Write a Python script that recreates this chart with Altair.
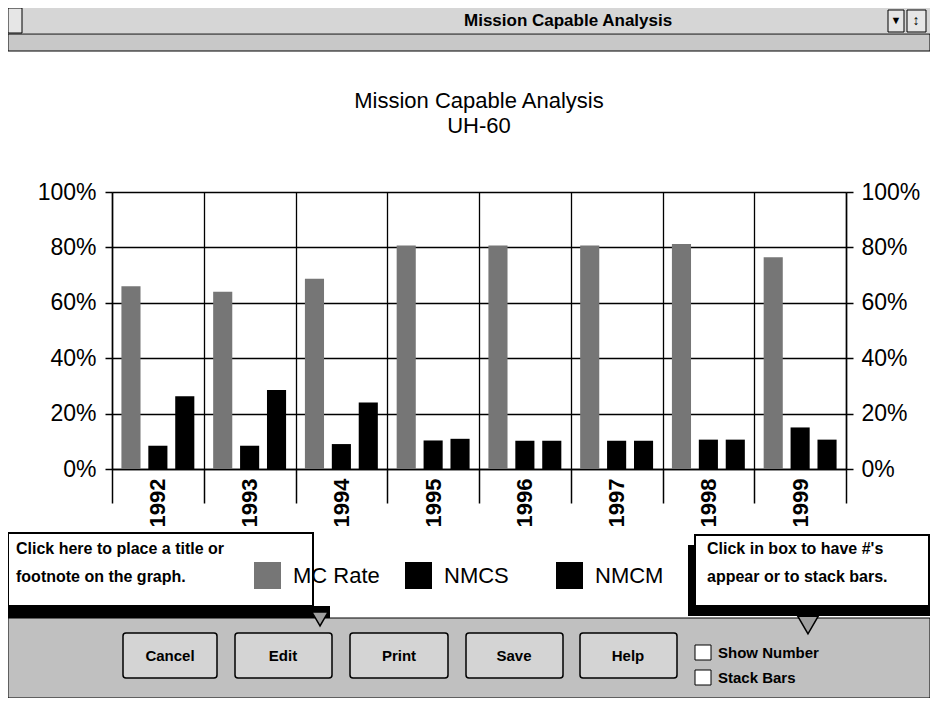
import altair as alt
import pandas as pd

# ---- data ----
years = ["1992", "1993", "1994", "1995", "1996", "1997", "1998", "1999"]
series = ["MC Rate", "NMCS", "NMCM"]
mc_rate = [66.0, 64.0, 68.7, 80.7, 80.7, 80.7, 81.2, 76.4]
nmcs = [8.4, 8.4, 9.0, 10.3, 10.2, 10.2, 10.6, 15.0]
nmcm = [26.3, 28.5, 24.0, 10.9, 10.2, 10.2, 10.6, 10.6]
y_ticks = [0, 20, 40, 60, 80, 100]
series_colors = ["#767676", "#000000", "#000000"]

rows = []
for i, yr in enumerate(years):
    for s, vals in zip(series, [mc_rate, nmcs, nmcm]):
        rows.append({"year": yr, "series": s, "value": vals[i]})
df = pd.DataFrame(rows)

FONT = "Liberation Sans, Arial, sans-serif"
UIFONT = "Liberation Sans Narrow, Liberation Sans, Arial, sans-serif"
OX, OY = 112, 192  # page position of plot origin (8px page margin + padding)

ysc = alt.Scale(domain=[0, 100], nice=False)

bars = alt.Chart(df).mark_bar().encode(
    x=alt.X(
        "year:N",
        sort=years,
        scale=alt.Scale(paddingInner=0, paddingOuter=0),
        axis=alt.Axis(
            title=None, labelAngle=270, labelFontSize=22, labelFontWeight="bold",
            labelFont=FONT, labelColor="black", tickBand="extent", tickSize=34,
            tickColor="black", tickWidth=1.5, labelPadding=-25, grid=True,
            gridColor="black", gridWidth=1.3, gridOpacity=1, domainColor="black",
            domainWidth=1.5,
        ),
    ),
    xOffset=alt.XOffset(
        "series:N", sort=series,
        scale=alt.Scale(domain=series, paddingInner=0.29, paddingOuter=0.35),
    ),
    y=alt.Y(
        "value:Q", scale=ysc,
        axis=alt.Axis(
            title=None, values=y_ticks, labelExpr="datum.value + '%'", orient="left",
            labelFontSize=23, labelFont=FONT, labelColor="black", tickSize=7,
            tickColor="black", tickWidth=1.5, labelPadding=9, grid=True,
            gridColor="black", gridWidth=1.3, gridOpacity=1, domainColor="black",
            domainWidth=1.5,
        ),
    ),
    color=alt.Color(
        "series:N",
        scale=alt.Scale(domain=series, range=series_colors),
        legend=alt.Legend(
            title=None, orient="none", legendX=142, legendY=370, direction="horizontal",
            columns=3, gridAlign="all", columnPadding=25, symbolType="square",
            symbolSize=729, symbolStrokeWidth=0, symbolOpacity=1, labelFontSize=22,
            labelFont=FONT, labelColor="black", labelOffset=12, padding=0,
        ),
    ),
)

right_axis = alt.Chart(df).mark_point(opacity=0).encode(
    x=alt.X("year:N", sort=years),
    y=alt.Y(
        "value:Q", scale=ysc,
        axis=alt.Axis(
            title=None, values=y_ticks, labelExpr="datum.value + '%'", orient="right",
            labelFontSize=23, labelFont=FONT, labelColor="black", tickSize=7,
            tickColor="black", tickWidth=1.5, labelPadding=8, grid=False,
            domainColor="black", domainWidth=1.5,
        ),
    ),
)

one = alt.Data(values=[{"k": 1}])


def box(x1, y1, x2, y2, fill, stroke=None, sw=0, radius=0):
    kw = dict(fill=fill, strokeWidth=sw, cornerRadius=radius)
    if stroke:
        kw["stroke"] = stroke
    return alt.Chart(one).mark_rect(**kw).encode(
        x=alt.value(x1 - OX), x2=alt.value(x2 - OX),
        y=alt.value(y1 - OY), y2=alt.value(y2 - OY),
    )


def label(txt, x, y, size=16, weight="bold", align="left", font=UIFONT):
    return alt.Chart(one).mark_text(
        text=txt, align=align, baseline="middle", font=font, fontSize=size,
        fontWeight=weight, color="black",
    ).encode(x=alt.value(x - OX), y=alt.value(y - OY))


def arrow(x, y, size=300):
    return alt.Chart(one).mark_point(
        shape="triangle-down", filled=True, fill="#a0a0a0", stroke="black",
        strokeWidth=1.5, size=size, opacity=1,
    ).encode(x=alt.value(x - OX), y=alt.value(y - OY))


chrome = [
    # window title bar
    box(8, 8, 930, 33, "#d6d6d6"),
    box(8, 8, 22, 33, "#e6e6e6", "black", 1),
    label("Mission Capable Analysis", 464, 21, size=17),
    box(888, 10, 904, 32, "#e6e6e6", "black", 1),
    box(907, 10, 926, 32, "#e6e6e6", "black", 1),
    label("\u25bc", 896, 21, size=11, align="center"),
    label("\u2195", 916, 21, size=14, align="center"),
    box(8, 34, 930, 51, "#c8c8c8", "black", 1),
    # left callout
    box(8, 606, 330, 618, "black"),
    box(8, 533, 313, 606, "white", "black", 2),
    label("Click here to place a title or", 16, 549),
    label("footnote on the graph.", 16, 577),
    # right callout
    box(688, 545, 695, 616, "black"),
    box(688, 606, 930, 616, "black"),
    box(695, 535, 929, 606, "white", "black", 2),
    label("Click in box to have #'s", 707, 549),
    label("appear or to stack bars.", 707, 577),
    # bottom button panel
    box(8, 618, 930, 698, "#c0c0c0", "black", 1),
    arrow(320, 619, 260),
    arrow(808, 625, 420),
    box(123, 633, 217, 678, "#d4d4d4", "black", 1.5, 3),
    box(235, 633, 332, 678, "#d4d4d4", "black", 1.5, 3),
    box(350, 633, 448, 678, "#d4d4d4", "black", 1.5, 3),
    box(466, 633, 563, 678, "#d4d4d4", "black", 1.5, 3),
    box(580, 633, 677, 678, "#d4d4d4", "black", 1.5, 3),
    label("Cancel", 170, 656, size=15, align="center"),
    label("Edit", 283, 656, size=15, align="center"),
    label("Print", 399, 656, size=15, align="center"),
    label("Save", 514, 656, size=15, align="center"),
    label("Help", 628, 656, size=15, align="center"),
    box(695, 645, 711, 660, "white", "black", 1),
    box(695, 670, 711, 685, "white", "black", 1),
    label("Show Number", 718, 653, size=15),
    label("Stack Bars", 718, 678, size=15),
]

chart = (
    alt.layer(bars, right_axis, *chrome)
    .resolve_scale(y="shared")
    .resolve_axis(y="independent")
    .properties(
        width=734,
        height=277,
        autosize=alt.AutoSizeParams(type="none"),
        padding={"left": 104, "top": 184, "right": 84, "bottom": 229},
        title=alt.TitleParams(
            text=["Mission Capable Analysis", "UH-60"],
            anchor="middle", fontSize=22, fontWeight="normal", font=FONT,
            color="black", lineHeight=25, offset=0, dy=130,
        ),
        background="white",
    )
    .configure_view(stroke=None)
)

chart.save("out.html", embed_options={"renderer": "svg", "actions": False})
